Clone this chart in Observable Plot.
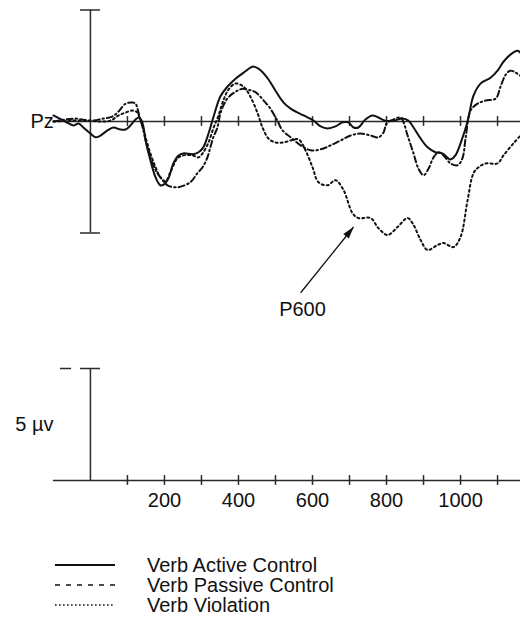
<!DOCTYPE html>
<html>
<head>
<meta charset="utf-8">
<script src="https://cdn.jsdelivr.net/npm/d3@7"></script>
<script src="https://cdn.jsdelivr.net/npm/@observablehq/plot@0.6"></script>
<style>
  body { margin: 0; background: #fff; }
  #page { position: relative; width: 520px; height: 627px; font-family: "Liberation Sans", Arial, Helvetica, sans-serif; color: #111; }
  #legend { position: absolute; left: 0; top: 555px; }
  .row { display: flex; align-items: center; height: 20px; font-size: 20px; line-height: 20px; }
  .row svg { display: block; }
</style>
</head>
<body>
<div id="page">
  <div id="top"></div>
  <div id="bottom"></div>
  <div id="legend"></div>
</div>
<script>
// Grand-average ERP at Pz: time (ms) and amplitude (µV, negative plotted up)
const activeControl = [[-100,-0.27],[-68,0],[-46,0.18],[-32,0.09],[-19,0.27],[0,0.54],[14,0.71],[27,0.63],[46,0.40],[62,0.27],[81,0.36],[95,0.36],[108,0.18],[122,-0.09],[132,-0.18],[141,0.09],[149,0.85],[162,1.74],[176,2.5],[189,2.86],[200,2.81],[211,2.54],[224,1.88],[238,1.52],[251,1.43],[276,1.47],[292,1.38],[305,1.16],[319,0.54],[332,-0.18],[351,-1.12],[370,-1.56],[392,-1.92],[414,-2.19],[438,-2.46],[454,-2.37],[478,-1.96],[500,-1.38],[522,-0.85],[541,-0.58],[576,-0.27],[603,-0.04],[622,0.22],[641,0.31],[662,0.22],[681,0.04],[697,0.04],[711,0.27],[724,0.27],[743,-0.09],[762,-0.27],[778,-0.18],[797,-0.04],[819,-0.04],[843,-0.13],[859,-0.04],[873,0.27],[892,0.76],[911,1.16],[932,1.38],[951,1.43],[973,1.70],[986,1.52],[1000,0.98],[1019,0],[1035,-1.16],[1054,-1.70],[1081,-1.96],[1100,-2.28],[1116,-2.68],[1141,-3.08],[1154,-3.17],[1162,-3.08]];

const passiveControl = [[-100,0],[-68,-0.09],[-41,-0.13],[0,-0.04],[35,-0.13],[59,-0.22],[76,-0.45],[95,-0.80],[114,-0.85],[122,-0.80],[127,-0.58],[132,-0.27],[141,0.27],[154,1.16],[168,1.88],[181,2.32],[195,2.63],[208,2.86],[235,2.95],[270,2.72],[289,2.32],[303,2.05],[316,1.61],[324,1.16],[332,0.71],[343,0.27],[351,-0.36],[359,-0.71],[370,-1.03],[384,-1.25],[397,-1.38],[411,-1.47],[424,-1.43],[438,-1.38],[451,-1.25],[468,-0.94],[486,-0.58],[505,-0.04],[519,0.40],[541,0.71],[568,1.07],[595,1.29],[622,1.25],[649,1.07],[676,0.85],[703,0.63],[730,0.54],[757,0.63],[778,0.71],[792,0.49],[800,0.09],[819,-0.09],[838,-0.18],[846,0.04],[857,0.63],[873,1.43],[886,2.10],[900,2.41],[914,2.10],[927,1.61],[941,1.38],[954,1.52],[973,1.88],[992,1.96],[1005,1.65],[1014,0.71],[1027,-0.49],[1046,-0.80],[1068,-0.94],[1095,-1.03],[1108,-1.56],[1122,-2.10],[1135,-2.28],[1149,-2.19],[1162,-2.05]];

const violation = [[-100,0],[-46,-0.04],[-8,-0.04],[27,0],[54,-0.04],[76,-0.27],[95,-0.40],[114,-0.49],[127,-0.40],[132,-0.18],[141,0.18],[149,0.71],[162,1.43],[176,2.05],[189,2.50],[203,2.68],[216,2.28],[235,1.65],[251,1.52],[276,1.52],[292,1.61],[305,1.38],[319,0.94],[332,0.31],[346,-0.27],[359,-0.94],[373,-1.43],[392,-1.70],[414,-1.56],[432,-1.12],[451,-0.40],[465,0.27],[481,0.76],[500,0.94],[522,0.94],[541,0.85],[562,0.80],[581,1.29],[600,2.05],[616,2.72],[641,2.86],[662,2.63],[684,3.08],[708,4.11],[724,4.33],[757,4.33],[778,4.78],[803,5.09],[830,4.73],[857,4.33],[873,4.64],[892,5.31],[911,5.76],[938,5.54],[954,5.45],[981,5.63],[1000,5.18],[1019,3.53],[1035,2.32],[1049,2.05],[1068,1.88],[1100,1.88],[1116,1.52],[1143,0.98],[1162,0.63]];

const seriesNames = ["Verb Active Control", "Verb Passive Control", "Verb Violation"];
const tickTimes = [100, 200, 300, 400, 500, 600, 700, 800, 900, 1000, 1100];
const tickLabels = [200, 400, 600, 800, 1000];
const channelLabel = "Pz";
const scaleLabel = "5 µv";
const scaleBar = 5;                 // µV
const p600Arrow = [{x1: 568, y1: 7.68, x2: 711, y2: 4.73, label: "P600", lx: 573, ly: 8.44}];

const FONT = '"Liberation Sans", Arial, Helvetica, sans-serif';
const INK = "#111";
const AXIS = "#2a2a2a";
const xDomain = [-243, 1162];
const styles = [
  {dash: null},
  {dash: "6,3,1.5,3"},
  {dash: "2,3"}
];

const X = d => d[0], Y = d => d[1];
const kx = 520 / (xDomain[1] - xDomain[0]);
const topRange = [9.5, 232.5];
const ky = (topRange[1] - topRange[0]) / 10;

// filled, slender arrowhead whose tip sits on the dot position
function arrowHeadSymbol(theta) {
  const c = Math.cos(theta), s = Math.sin(theta);
  const pts = [[0, 0], [-3.6, 12], [3.6, 12]].map(([x, y]) => [x * c - y * s, x * s + y * c]);
  return {
    draw(ctx) {
      ctx.moveTo(pts[0][0], pts[0][1]);
      ctx.lineTo(pts[1][0], pts[1][1]);
      ctx.lineTo(pts[2][0], pts[2][1]);
      ctx.closePath();
    }
  };
}
const a = p600Arrow[0];
const theta = Math.atan2((a.x2 - a.x1) * kx, -(a.y2 - a.y1) * ky);

const ticksTop = tickTimes.map(t => ({t}));

const topPlot = Plot.plot({
  width: 520, height: 330, margin: 0,
  x: {domain: xDomain, axis: null},
  y: {domain: [-5, 5], range: topRange, axis: null},
  style: {fontFamily: FONT, overflow: "visible", background: "white", color: INK},
  marks: [
    Plot.ruleY([0], {x1: -100, x2: xDomain[1], stroke: AXIS, strokeWidth: 1.5}),
    Plot.ruleX(ticksTop, {x: "t", y1: -0.22, y2: 0.22, stroke: AXIS, strokeWidth: 1.5}),
    Plot.ruleX([0], {y1: -scaleBar, y2: scaleBar, stroke: AXIS, strokeWidth: 1.5}),
    Plot.ruleY([-scaleBar, scaleBar], {x1: -27, x2: 27, stroke: AXIS, strokeWidth: 1.5}),
    Plot.line(violation, {x: X, y: Y, curve: "catmull-rom", stroke: INK, strokeWidth: 2, strokeDasharray: styles[2].dash}),
    Plot.line(passiveControl, {x: X, y: Y, curve: "catmull-rom", stroke: INK, strokeWidth: 2, strokeDasharray: styles[1].dash}),
    Plot.line(activeControl, {x: X, y: Y, curve: "catmull-rom", stroke: INK, strokeWidth: 2}),
    Plot.text([channelLabel], {x: -162, y: 0, text: d => d, textAnchor: "start", fontSize: 20, fill: INK}),
    Plot.link(p600Arrow, {x1: "x1", y1: "y1", x2: "x2", y2: "y2", stroke: INK, strokeWidth: 1.3}),
    Plot.dot(p600Arrow, {x: "x2", y: "y2", symbol: arrowHeadSymbol(theta), r: 5, fill: INK, stroke: "none"}),
    Plot.text(p600Arrow, {x: "lx", y: "ly", text: "label", fontSize: 20, fill: INK})
  ]
});
document.getElementById("top").append(topPlot);

const bottomPlot = Plot.plot({
  width: 520, height: 190, margin: 0, marginBottom: 40,
  x: {domain: xDomain, axis: null},
  y: {domain: [-scaleBar, 0], range: [38, 150], axis: null},
  style: {fontFamily: FONT, overflow: "visible", background: "white", color: INK},
  marks: [
    Plot.ruleY([0], {x1: -100, x2: xDomain[1], stroke: AXIS, strokeWidth: 1.5}),
    Plot.ruleX(ticksTop, {x: "t", y1: -0.22, y2: 0.22, stroke: AXIS, strokeWidth: 1.5}),
    Plot.ruleX([0], {y1: -scaleBar, y2: 0, stroke: AXIS, strokeWidth: 1.5}),
    Plot.ruleY([-scaleBar], {x1: -27, x2: 27, stroke: AXIS, strokeWidth: 1.5}),
    Plot.ruleY([-scaleBar], {x1: -81, x2: -51, stroke: AXIS, strokeWidth: 1.5}),
    Plot.text([scaleLabel], {x: -100, y: -scaleBar / 2, text: d => d, textAnchor: "end", fontSize: 20, fill: INK}),
    Plot.axisX(tickLabels, {anchor: "bottom", tickSize: 0, tickPadding: 12, fontSize: 20, label: null, tickFormat: d3.format("d"), fill: INK})
  ]
});
document.getElementById("bottom").append(bottomPlot);

// legend rows: line sample + series name
const legend = d3.select("#legend");
seriesNames.forEach((name, i) => {
  const row = legend.append("div").attr("class", "row");
  const svg = row.append("svg").attr("width", 147).attr("height", 20);
  svg.append("line")
    .attr("x1", 55).attr("x2", 115).attr("y1", 10).attr("y2", 10)
    .attr("stroke", INK).attr("stroke-width", i === 0 ? 2 : 1.6)
    .attr("stroke-dasharray", i === 1 ? "5,6" : i === 2 ? "1.6,2.4" : null);
  row.append("span").text(name);
});
</script>
</body>
</html>
